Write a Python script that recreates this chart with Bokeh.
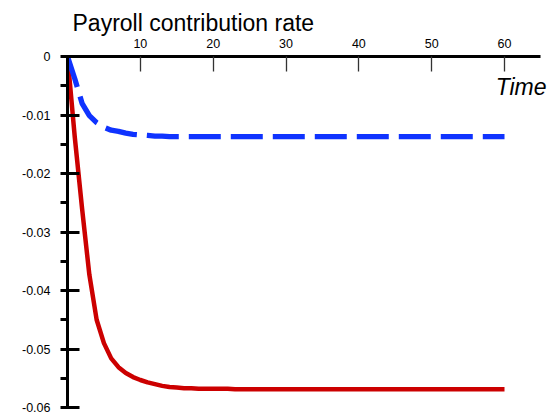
from bokeh.plotting import figure
from bokeh.models import FixedTicker, Range1d, Label, LinearAxis
from bokeh.embed import file_html
from bokeh.resources import INLINE

# ---- data ----
time = list(range(0, 61))
red_series = [0, -0.0138, -0.0260, -0.0373, -0.0450, -0.0490, -0.0516, -0.0531, -0.0541, -0.0548,
              -0.0553, -0.0557, -0.0560, -0.0563, -0.0565, -0.0566, -0.0567, -0.0567, -0.0568, -0.0568,
              -0.0568, -0.0568, -0.0568, -0.0569, -0.0569, -0.0569, -0.0569, -0.0569, -0.0569, -0.0569,
              -0.0569, -0.0569, -0.0569, -0.0569, -0.0569, -0.0569, -0.0569, -0.0569, -0.0569, -0.0569,
              -0.0569, -0.0569, -0.0569, -0.0569, -0.0569, -0.0569, -0.0569, -0.0569, -0.0569, -0.0569,
              -0.0569, -0.0569, -0.0569, -0.0569, -0.0569, -0.0569, -0.0569, -0.0569, -0.0569, -0.0569,
              -0.0569]
blue_series = [0, -0.0038, -0.0080, -0.0101, -0.0113, -0.0121, -0.0126, -0.0128, -0.0131, -0.0133,
               -0.0134, -0.0135, -0.0136, -0.0136, -0.0137, -0.0137, -0.0137, -0.0137, -0.0137, -0.0137,
               -0.0137, -0.0137, -0.0137, -0.0137, -0.0137, -0.0137, -0.0137, -0.0137, -0.0137, -0.0137,
               -0.0137, -0.0137, -0.0137, -0.0137, -0.0137, -0.0137, -0.0137, -0.0137, -0.0137, -0.0137,
               -0.0137, -0.0137, -0.0137, -0.0137, -0.0137, -0.0137, -0.0137, -0.0137, -0.0137, -0.0137,
               -0.0137, -0.0137, -0.0137, -0.0137, -0.0137, -0.0137, -0.0137, -0.0137, -0.0137, -0.0137,
               -0.0137]
x_ticks = [10, 20, 30, 40, 50, 60]
y_ticks = [0, -0.01, -0.02, -0.03, -0.04, -0.05, -0.06]
y_tick_labels = ["0", "-0.01", "-0.02", "-0.03", "-0.04", "-0.05", "-0.06"]
y_minor_ticks = [-0.005, -0.015, -0.025, -0.035, -0.045, -0.055]
title_text = "Payroll contribution rate"
x_axis_title = "Time"

FONT = "Liberation Sans"

p = figure(width=558, height=414, output_backend="svg", toolbar_location=None,
           x_range=Range1d(0, 66.04), y_range=Range1d(-0.06, 0),
           x_axis_location=None, y_axis_location=None,
           min_border_left=67, min_border_right=10, min_border_top=56, min_border_bottom=7,
           title=title_text)
p.outline_line_color = None
p.grid.visible = False
p.background_fill_color = "white"
p.border_fill_color = "white"

p.title.text_font = FONT
p.title.text_font_size = "23px"
p.title.text_font_style = "normal"
p.title.text_color = "black"
p.title.align = "left"
p.title.offset = 5
p.title.standoff = 0

# top x axis
xa = LinearAxis(ticker=FixedTicker(ticks=x_ticks, minor_ticks=[]), bounds=(0, 65))
xa.axis_line_width = 3
xa.axis_line_color = "black"
xa.major_tick_in = 15
xa.major_tick_out = 0
xa.major_tick_line_width = 1.3
xa.major_tick_line_color = "#333333"
xa.minor_tick_line_color = None
xa.major_label_text_font = FONT
xa.major_label_text_font_size = "12.5px"
xa.major_label_text_color = "black"
xa.major_label_standoff = 9
p.add_layout(xa, "above")

# left y axis
ya = LinearAxis(ticker=FixedTicker(ticks=y_ticks, minor_ticks=y_minor_ticks))
ya.major_label_overrides = {t: lab for t, lab in zip(y_ticks, y_tick_labels)}
ya.axis_line_width = 3
ya.axis_line_color = "black"
ya.major_tick_in = 12
ya.major_tick_out = 7
ya.major_tick_line_width = 3
ya.major_tick_line_color = "black"
ya.minor_tick_in = 0
ya.minor_tick_out = 7
ya.minor_tick_line_width = 3
ya.minor_tick_line_color = "black"
ya.major_label_text_font = FONT
ya.major_label_text_font_size = "12.5px"
ya.major_label_text_color = "black"
ya.major_label_standoff = 10
p.add_layout(ya, "left")

p.line(time, red_series, line_color="#cc0000", line_width=4.5, line_join="round")
p.line(time, blue_series, line_color="#0f33ff", line_width=5.3, line_dash="32 10", line_cap="butt")

p.add_layout(Label(x=65.77, y=-0.0052, text=x_axis_title, text_font=FONT,
                   text_font_size="23px", text_font_style="italic", text_color="black",
                   text_baseline="alphabetic", text_align="right"))

open("out.html", "w").write(file_html(p, INLINE))
